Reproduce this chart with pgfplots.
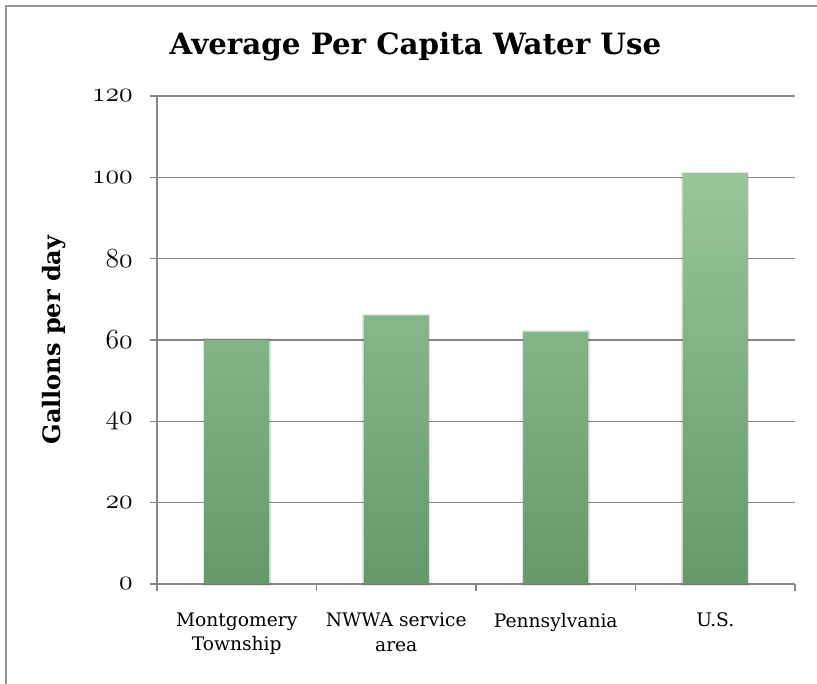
\documentclass[border=0pt]{standalone}
\usepackage{pgfplots}
\pgfplotsset{compat=1.18}
\usepackage{fontspec}
\newfontfamily\serifdv{DejaVu Serif}

\definecolor{gridgray}{RGB}{134,134,134}
\definecolor{framegray}{RGB}{150,150,150}
\definecolor{bartop}{RGB}{150,198,153}
\definecolor{barbottom}{RGB}{103,152,108}

% old-style figures from the math italic font
\newcommand{\osn}[1]{{\fontencoding{OML}\fontfamily{cmm}\fontseries{m}\fontshape{it}\selectfont #1}}

\begin{document}
\begin{tikzpicture}
\useasboundingbox (0,0) rectangle (612.75pt,513pt);
% outer frame of the chart area, running past the right and bottom edges
\begin{scope}
\clip (0,0) rectangle (612.75pt,513pt);
\draw[framegray, line width=1.5pt] (4.5pt,-20pt) rectangle (640pt,508.5pt);
\end{scope}

\node[anchor=base, font=\serifdv\bfseries\fontsize{22}{26}\selectfont]
  at (311.6pt,471.75pt) {Average Per Capita Water Use};

\begin{axis}[
  at={(117.75pt,75pt)}, anchor=south west,
  scale only axis,
  width=478.5pt, height=366pt,
  xmin=-0.5, xmax=3.5,
  ymin=0, ymax=120,
  axis x line*=bottom, axis y line*=left,
  axis line style={-, draw=gridgray, line width=1.2pt},
  tick style={draw=gridgray, line width=1.2pt},
  tick align=outside,
  major tick length=5.25pt,
  ytick={0,20,...,120},
  yticklabels={\osn{0},\osn{20},\osn{40},\osn{60},\osn{80},\osn{100},\osn{120}},
  yticklabel style={font=\fontsize{22}{26}\selectfont, anchor=east, inner sep=0pt,
    xshift=-12.75pt},
  ymajorgrids=true,
  major grid style={draw=gridgray, line width=1.2pt},
  xtick={-0.5,0.5,1.5,2.5,3.5},
  xticklabels={},
  extra x ticks={0,1,2,3},
  extra x tick labels={Montgomery\\Township, NWWA service\\area, Pennsylvania, U.S.},
  extra x tick style={major tick length=0pt, grid=none},
  xticklabel style={font=\serifdv\fontsize{14}{18.3}\selectfont, align=center,
    anchor=north, inner sep=0pt, yshift=-21.5pt},
  every axis y label/.style={at={(axis description cs:-0.1513,0.5)},
    rotate=90, anchor=base},
  ylabel={\serifdv\bfseries\fontsize{18}{22}\selectfont Gallons per day},
  ybar, bar width=48.4pt,
  clip=false,
]
\addplot[ybar, draw=none, top color=bartop, bottom color=barbottom,
  preaction={draw=black, draw opacity=0.1, line width=2.5pt},
  ] coordinates {(0,60) (1,66) (2,62) (3,101)};
\end{axis}
\end{tikzpicture}
\end{document}
